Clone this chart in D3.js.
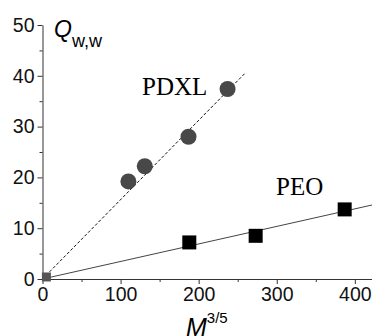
<!DOCTYPE html>
<html>
<head>
<meta charset="utf-8">
<style>
    body { margin: 0; background: white; }
    svg { display: block; }
    .axis text { font-family: "Liberation Sans", Arial, sans-serif; font-size: 19.5px; fill: #111; }
    .axis path, .axis line { stroke: #333; }
</style>
</head>
<body>
<svg width="372" height="336"></svg>
<script src="https://d3js.org/d3.v7.min.js"></script>
<script>
    // data
    let pdxlX = [110, 131, 187, 237];
    let pdxlY = [19.2, 22.2, 28.0, 37.4];
    let peoX = [188, 273, 387];
    let peoY = [7.2, 8.5, 13.7];
    let originPoint = [5, 0.4];
    let pdxlFit = [[0, 0], [260, 40.6]];
    let peoFit = [[0, 0], [423, 14.6]];
    let xTicks = [0, 100, 200, 300, 400];
    let xMinor = [50, 150, 250, 350];
    let yTicks = [0, 10, 20, 30, 40, 50];
    let yMinor = [5, 15, 25, 35, 45];

    let svg = d3.select("svg");

    let x = d3.scaleLinear().domain([0, 422]).range([42.5, 372]);
    let y = d3.scaleLinear().domain([0, 50]).range([279, 25]);

    // minor ticks
    svg.append("g")
        .attr("class", "axis")
        .attr("transform", "translate(0,279)")
        .call(d3.axisBottom(x).tickValues(xMinor).tickSize(3).tickFormat(""))
        .call(g => g.select(".domain").remove());
    svg.append("g")
        .attr("class", "axis")
        .attr("transform", "translate(42.5,0)")
        .call(d3.axisLeft(y).tickValues(yMinor).tickSize(3).tickFormat(""))
        .call(g => g.select(".domain").remove());

    svg.append("g")
        .attr("class", "axis")
        .attr("transform", "translate(0,279)")
        .call(d3.axisBottom(x).tickValues(xTicks).tickSize(5).tickSizeOuter(0).tickPadding(3));
    svg.append("g")
        .attr("class", "axis")
        .attr("transform", "translate(42.5,0)")
        .call(d3.axisLeft(y).tickValues(yTicks).tickSize(5).tickSizeOuter(0).tickPadding(3));

    let line = d3.line().x(d => x(d[0])).y(d => y(d[1]));

    svg.append("path")
        .attr("d", line(pdxlFit))
        .attr("fill", "none")
        .attr("stroke", "#111")
        .attr("stroke-width", 1)
        .attr("stroke-dasharray", "3,2");

    svg.append("path")
        .attr("d", line(peoFit))
        .attr("fill", "none")
        .attr("stroke", "#444")
        .attr("stroke-width", 1);

    svg.append("rect")
        .attr("x", x(originPoint[0]) - 4.5)
        .attr("y", y(originPoint[1]) - 4.5)
        .attr("width", 9)
        .attr("height", 9)
        .attr("fill", "#555");

    svg.append("g")
        .selectAll("circle")
        .data(pdxlX)
        .join("circle")
        .attr("cx", d => x(d))
        .attr("cy", (d, i) => y(pdxlY[i]))
        .attr("r", 8)
        .attr("fill", "#484848");

    svg.append("g")
        .selectAll("rect")
        .data(peoX)
        .join("rect")
        .attr("x", d => x(d) - 7)
        .attr("y", (d, i) => y(peoY[i]) - 7)
        .attr("width", 14)
        .attr("height", 14)
        .attr("fill", "#000");

    svg.append("text")
        .attr("x", 142)
        .attr("y", 95)
        .attr("font-family", "Liberation Serif, Times New Roman, serif")
        .attr("font-size", 25)
        .text("PDXL");

    svg.append("text")
        .attr("x", 276)
        .attr("y", 195)
        .attr("font-family", "Liberation Serif, Times New Roman, serif")
        .attr("font-size", 25)
        .text("PEO");

    // axis titles
    let qLabel = svg.append("text")
        .attr("x", 54)
        .attr("y", 37)
        .attr("font-family", "Liberation Sans, Arial, sans-serif");
    qLabel.append("tspan").attr("font-size", 23).attr("font-style", "italic").text("Q");
    qLabel.append("tspan").attr("font-size", 18).attr("dy", 10).text("w,w");

    let mLabel = svg.append("text")
        .attr("x", 186)
        .attr("y", 336)
        .attr("font-family", "Liberation Sans, Arial, sans-serif");
    mLabel.append("tspan").attr("font-size", 25).attr("font-style", "italic").text("M");
    mLabel.append("tspan").attr("font-size", 15).attr("dy", -13).text("3/5");
</script>
</body>
</html>
